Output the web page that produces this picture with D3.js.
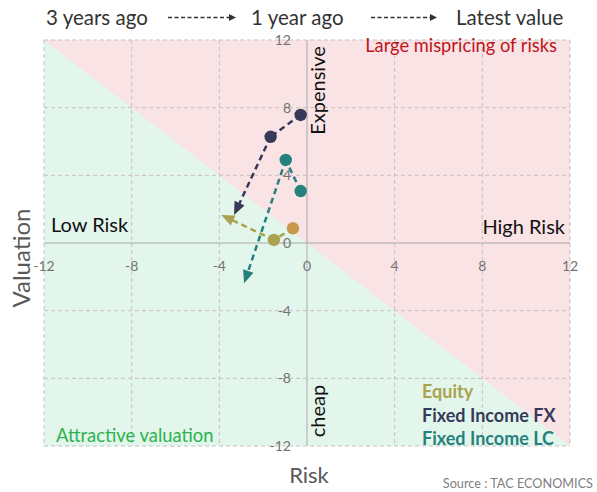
<!DOCTYPE html>
<html>
<head>
<meta charset="utf-8">
<script src="https://cdn.jsdelivr.net/npm/d3@7"></script>
<style>
  html, body { margin: 0; padding: 0; background: #fff; }
  svg { display: block; font-family: Lato, "Open Sans", sans-serif; }
</style>
</head>
<body>
<svg id="chart" width="597" height="492"></svg>
<script>
// Risk / valuation positions: 3 years ago, 1 year ago, latest value
const seriesNames = ["Equity", "Fixed Income FX", "Fixed Income LC"];
const seriesColors = ["#aaa24e", "#363a58", "#25817e"];
const startColors = ["#c9974a", "#363a58", "#25817e"];
const riskValues = [
  [-0.64, -1.51, -3.91],
  [-0.29, -1.66, -3.33],
  [-0.29, -0.97, -2.87]
];
const valuationValues = [
  [0.87, 0.18, 1.66],
  [7.57, 6.28, 1.66],
  [3.07, 4.91, -2.38]
];
const tickValues = [-12, -8, -4, 0, 4, 8, 12];
const timeLabels = ["3 years ago", "1 year ago", "Latest value"];

const svg = d3.select("#chart");
const x = d3.scaleLinear().domain([-12, 12]).range([44, 570]);
const y = d3.scaleLinear().domain([-12, 12]).range([446, 40]);

// Background zones split along risk + valuation = 0
const x0 = x(-12), x1 = x(12), y0 = y(12), y1 = y(-12);
svg.append("rect").attr("x", x0).attr("y", y0).attr("width", x1 - x0).attr("height", y1 - y0)
  .attr("fill", "#f9e3e4");
svg.append("path")
  .attr("d", `M${x(-12)},${y(12)}L${x(12)},${y(-12)}L${x(-12)},${y(-12)}Z`)
  .attr("fill", "#e3f6ec");

// Dashed grid
const grid = svg.append("g").attr("stroke", "#c9c0c0").attr("stroke-dasharray", "4,3").attr("stroke-width", 1);
tickValues.filter(t => t !== 0).forEach(t => {
  grid.append("line").attr("x1", x(t)).attr("x2", x(t)).attr("y1", y0).attr("y2", y1);
  grid.append("line").attr("y1", y(t)).attr("y2", y(t)).attr("x1", x0).attr("x2", x1);
});

// Zero axes
svg.append("line").attr("x1", x(0)).attr("x2", x(0)).attr("y1", y0).attr("y2", y1)
  .attr("stroke", "#a9a9a9").attr("stroke-width", 1);
svg.append("line").attr("x1", x0).attr("x2", x1).attr("y1", y(0)).attr("y2", y(0))
  .attr("stroke", "#a9a9a9").attr("stroke-width", 1);

// Tick labels
const tickFont = 14, tickColor = "#737373";
svg.append("g").selectAll("text").data(tickValues).join("text")
  .attr("x", d => x(d)).attr("y", y(0) + 28)
  .attr("text-anchor", "middle").attr("font-size", tickFont).attr("fill", tickColor)
  .text(d => d);
svg.append("g").selectAll("text").data(tickValues).join("text")
  .attr("x", x(0) - 16).attr("y", d => y(d) + 5)
  .attr("text-anchor", "end").attr("font-size", tickFont).attr("fill", tickColor)
  .text(d => d);

// Zone and quadrant labels
svg.append("text").attr("x", 51).attr("y", 232).attr("font-size", 20).attr("fill", "#111").text("Low Risk");
svg.append("text").attr("x", 565).attr("y", 234).attr("text-anchor", "end").attr("font-size", 20).attr("fill", "#111").text("High Risk");
svg.append("text").attr("transform", `translate(325,90.5) rotate(-90)`)
  .attr("text-anchor", "middle").attr("font-size", 20).attr("fill", "#111").text("Expensive");
svg.append("text").attr("transform", `translate(325,411) rotate(-90)`)
  .attr("text-anchor", "middle").attr("font-size", 20).attr("fill", "#111").text("cheap");
svg.append("text").attr("x", 557).attr("y", 52).attr("text-anchor", "end").attr("font-size", 18.3)
  .attr("fill", "#c0141c").text("Large mispricing of risks");
svg.append("text").attr("x", 56).attr("y", 442).attr("font-size", 18.4)
  .attr("fill", "#2bb24f").text("Attractive valuation");

// Axis titles
svg.append("text").attr("x", 309).attr("y", 483).attr("text-anchor", "middle")
  .attr("font-size", 22).attr("fill", "#595959").text("Risk");
svg.append("text").attr("transform", `translate(30,258) rotate(-90)`).attr("text-anchor", "middle")
  .attr("font-size", 24).attr("fill", "#595959").text("Valuation");
svg.append("text").attr("x", 593).attr("y", 488).attr("text-anchor", "end")
  .attr("font-size", 12.7).attr("fill", "#808080").text("Source : TAC ECONOMICS");

// Arrowhead helper: draws a filled head ending at (xb, yb), returns where the shaft should stop
function arrowHead(g, xa, ya, xb, yb, len, half, color) {
  const a = Math.atan2(yb - ya, xb - xa);
  const bx = xb - len * Math.cos(a), by = yb - len * Math.sin(a);
  const px = -Math.sin(a) * half, py = Math.cos(a) * half;
  g.append("path")
    .attr("d", `M${xb},${yb}L${bx + px},${by + py}L${bx - px},${by - py}Z`)
    .attr("fill", color);
  return [xb - (len - 2) * Math.cos(a), yb - (len - 2) * Math.sin(a)];
}

// Series trajectories
seriesNames.forEach((name, i) => {
  const g = svg.append("g");
  const pts = riskValues[i].map((r, k) => [x(r), y(valuationValues[i][k])]);
  const color = seriesColors[i];
  g.append("line").attr("x1", pts[0][0]).attr("y1", pts[0][1]).attr("x2", pts[1][0]).attr("y2", pts[1][1])
    .attr("stroke", color).attr("stroke-width", 2.5).attr("stroke-dasharray", "6,4");
  const end = arrowHead(g, pts[1][0], pts[1][1], pts[2][0], pts[2][1], 13, 5.5, color);
  g.append("line").attr("x1", pts[1][0]).attr("y1", pts[1][1]).attr("x2", end[0]).attr("y2", end[1])
    .attr("stroke", color).attr("stroke-width", 2.5).attr("stroke-dasharray", "6,4");
  g.append("circle").attr("cx", pts[0][0]).attr("cy", pts[0][1]).attr("r", 6.2).attr("fill", startColors[i]);
  g.append("circle").attr("cx", pts[1][0]).attr("cy", pts[1][1]).attr("r", 6.2).attr("fill", color);
});

// Series legend
svg.append("g").selectAll("text").data(seriesNames).join("text")
  .attr("x", 422).attr("y", (d, i) => 398 + i * 23.5)
  .attr("font-size", 18).attr("font-weight", "bold")
  .attr("fill", (d, i) => seriesColors[i]).text(d => d);

// Time legend across the top
const timeX = [46, 251, 456];
const tl = svg.append("g");
timeLabels.forEach((t, i) => {
  tl.append("text").attr("x", timeX[i]).attr("y", 25).attr("font-size", 20.5).attr("fill", "#333").text(t);
});
[[168, 236], [371, 437]].forEach(([a, b]) => {
  tl.append("line").attr("x1", a).attr("x2", b - 6).attr("y1", 17.5).attr("y2", 17.5)
    .attr("stroke", "#333").attr("stroke-width", 1.5).attr("stroke-dasharray", "4,2.5");
  tl.append("path").attr("d", `M${b},17.5L${b - 7},14L${b - 7},21Z`).attr("fill", "#333");
});
</script>
</body>
</html>
